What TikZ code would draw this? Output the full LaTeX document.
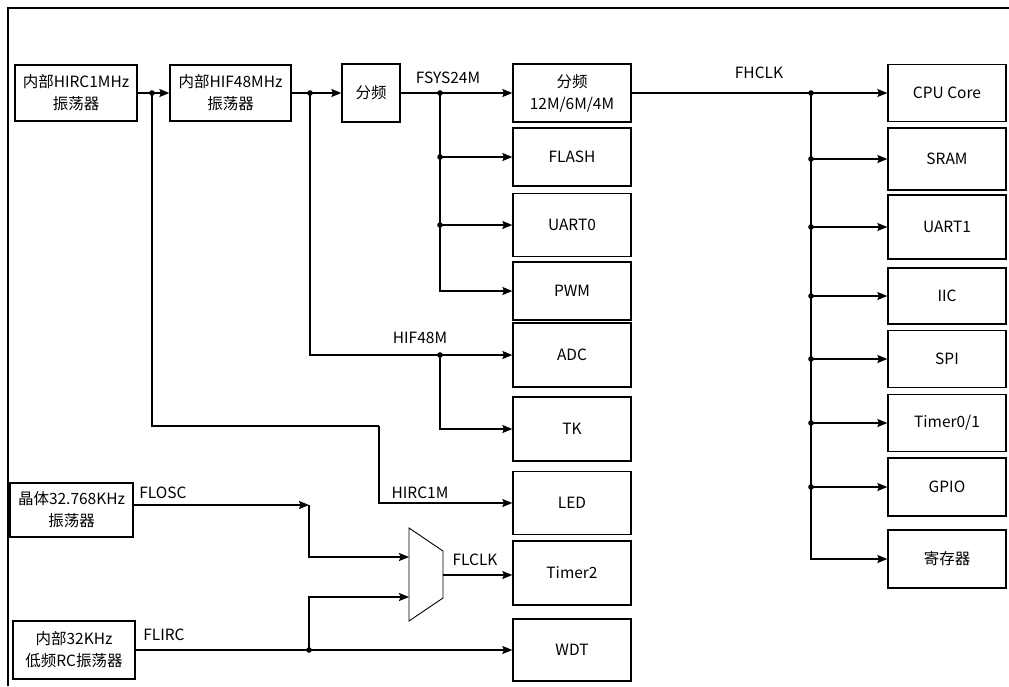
\documentclass[tikz,border=0pt]{standalone}
\usepackage{fontspec}
\setmainfont{Noto Sans CJK SC}
\usetikzlibrary{arrows.meta}
\newcommand\fs{\fontsize{15.5}{22}\selectfont}
\begin{document}
\begin{tikzpicture}[x=1pt,y=-1pt,
  box/.style={draw, line width=1.3pt, inner sep=0pt, align=center, font=\fs},
  midbox/.style={box, minimum width=118pt},
  rbox/.style={box, minimum width=118pt},
  ln/.style={line width=1.3pt},
  arr/.style={line width=1.3pt, -{Stealth[length=10pt,width=8pt,inset=1.5pt]}},
  lbl/.style={font=\fs, inner sep=0pt},
  frame/.style={line width=1.1pt},
  muxline/.style={line width=0.9pt, line join=miter}]
\useasboundingbox (0,0) rectangle (1009,686);
\draw[frame] (8,686) -- (8,8) -- (1009,8);

% sources
\node[box, minimum width=122pt, minimum height=56pt] (hirc) at (76,93) {内部HIRC1MHz\\振荡器};
\node[box, minimum width=121pt, minimum height=56pt] (hif) at (230.5,93) {内部HIF48MHz\\振荡器};
\node[box, minimum width=58pt, minimum height=58pt] (div1) at (371,93) {分频};
\node[box, minimum width=123pt, minimum height=54pt] (flosc) at (71.5,510) {晶体32.768KHz\\振荡器};
\node[box, minimum width=122pt, minimum height=58pt] (flirc) at (74,650) {内部32KHz\\低频RC振荡器};

% middle column
\node[midbox, minimum height=58pt] (div2) at (572,93) {分频\\12M/6M/4M};
\node[midbox, minimum height=58pt] (flash) at (572,157) {FLASH};
\node[midbox, minimum height=63pt] (uart0) at (572,225) {UART0};
\node[midbox, minimum height=58pt] (pwm) at (572,291) {PWM};
\node[midbox, minimum height=64pt] (adc) at (572,355) {ADC};
\node[midbox, minimum height=64pt] (tk) at (572,429) {TK};
\node[midbox, minimum height=63pt] (led) at (572,503) {LED};
\node[midbox, minimum height=64pt] (timer2) at (572,573) {Timer2};
\node[midbox, minimum height=62pt] (wdt) at (572,650) {WDT};

% right column
\node[rbox, minimum height=57pt] (cpu) at (947,93) {CPU Core};
\node[rbox, minimum height=62pt] (sram) at (947,159) {SRAM};
\node[rbox, minimum height=64pt] (uart1) at (947,227) {UART1};
\node[rbox, minimum height=56pt] (iic) at (947,296) {IIC};
\node[rbox, minimum height=57pt] (spi) at (947,359) {SPI};
\node[rbox, minimum height=57pt] (tim01) at (947,423) {Timer0/1};
\node[rbox, minimum height=58pt] (gpio) at (947,487) {GPIO};
\node[rbox, minimum height=58pt] (reg) at (947,559) {寄存器};

% labels
\node[lbl] (lfsys) at (448,78) {FSYS24M};
\node[lbl] (lfhclk) at (759,73) {FHCLK};
\node[lbl] (lhif) at (420,338) {HIF48M};
\node[lbl] (lhirc) at (420,493) {HIRC1M};
\node[lbl] (lflosc) at (163,493) {FLOSC};
\node[lbl] (lflirc) at (164,635) {FLIRC};
\node[lbl] (lflclk) at (475,560) {FLCLK};

% HIRC1MHz branch
\coordinate (jA) at (152,93);
\coordinate (hk1) at (379,426);
\draw[arr] (hirc.east) -- (hif.west);
\draw[ln] (jA) |- (hk1);
\draw[arr] (hk1) |- (led.west);
\fill (jA) circle (2.8pt);

% HIF48MHz branch
\coordinate (jB) at (310,93);
\coordinate (jC) at (440,355);
\draw[arr] (hif.east) -- (div1.west);
\draw[arr] (jB) |- (adc.west);
\draw[arr] (jC) |- (tk.west);
\fill (jB) circle (2.8pt);
\fill (jC) circle (2.8pt);

% FSYS24M branch
\coordinate (jD) at (440,93);
\coordinate (jE) at (jD |- flash.west);
\coordinate (jF) at (jD |- uart0.west);
\draw[arr] (div1.east) -- (div2.west);
\draw[arr] (jD) |- (pwm.west);
\draw[arr] (jE) -- (flash.west);
\draw[arr] (jF) -- (uart0.west);
\fill (jD) circle (2.8pt);
\fill (jE) circle (2.8pt);
\fill (jF) circle (2.8pt);

% FHCLK bus
\coordinate (jG) at (811,93);
\draw[arr] (div2.east) -- (cpu.west);
\draw[arr] (jG) |- (reg.west);
\foreach \n in {sram,uart1,iic,spi,tim01,gpio}{
  \draw[arr] (jG |- \n.west) -- (\n.west);
  \fill (jG |- \n.west) circle (2.8pt);
}
\fill (jG) circle (2.8pt);

% low-frequency section
\coordinate (fc) at (309,505);
\coordinate (fj) at (309,650);
\coordinate (mi1) at (409,557);
\coordinate (mi2) at (409,597);
\coordinate (mo) at (443,575);
\draw[muxline] (409,528) -- (443,551) -- (443,598) -- (409,621) -- cycle;
\draw[arr] (flosc.east |- fc) -- (fc);
\draw[arr] (fc) |- (mi1);
\draw[arr] (flirc.east) -- (wdt.west);
\draw[arr] (fj) |- (mi2);
\fill (fj) circle (2.8pt);
\draw[arr] (mo) -- (mo -| timer2.west);
\end{tikzpicture}
\end{document}
